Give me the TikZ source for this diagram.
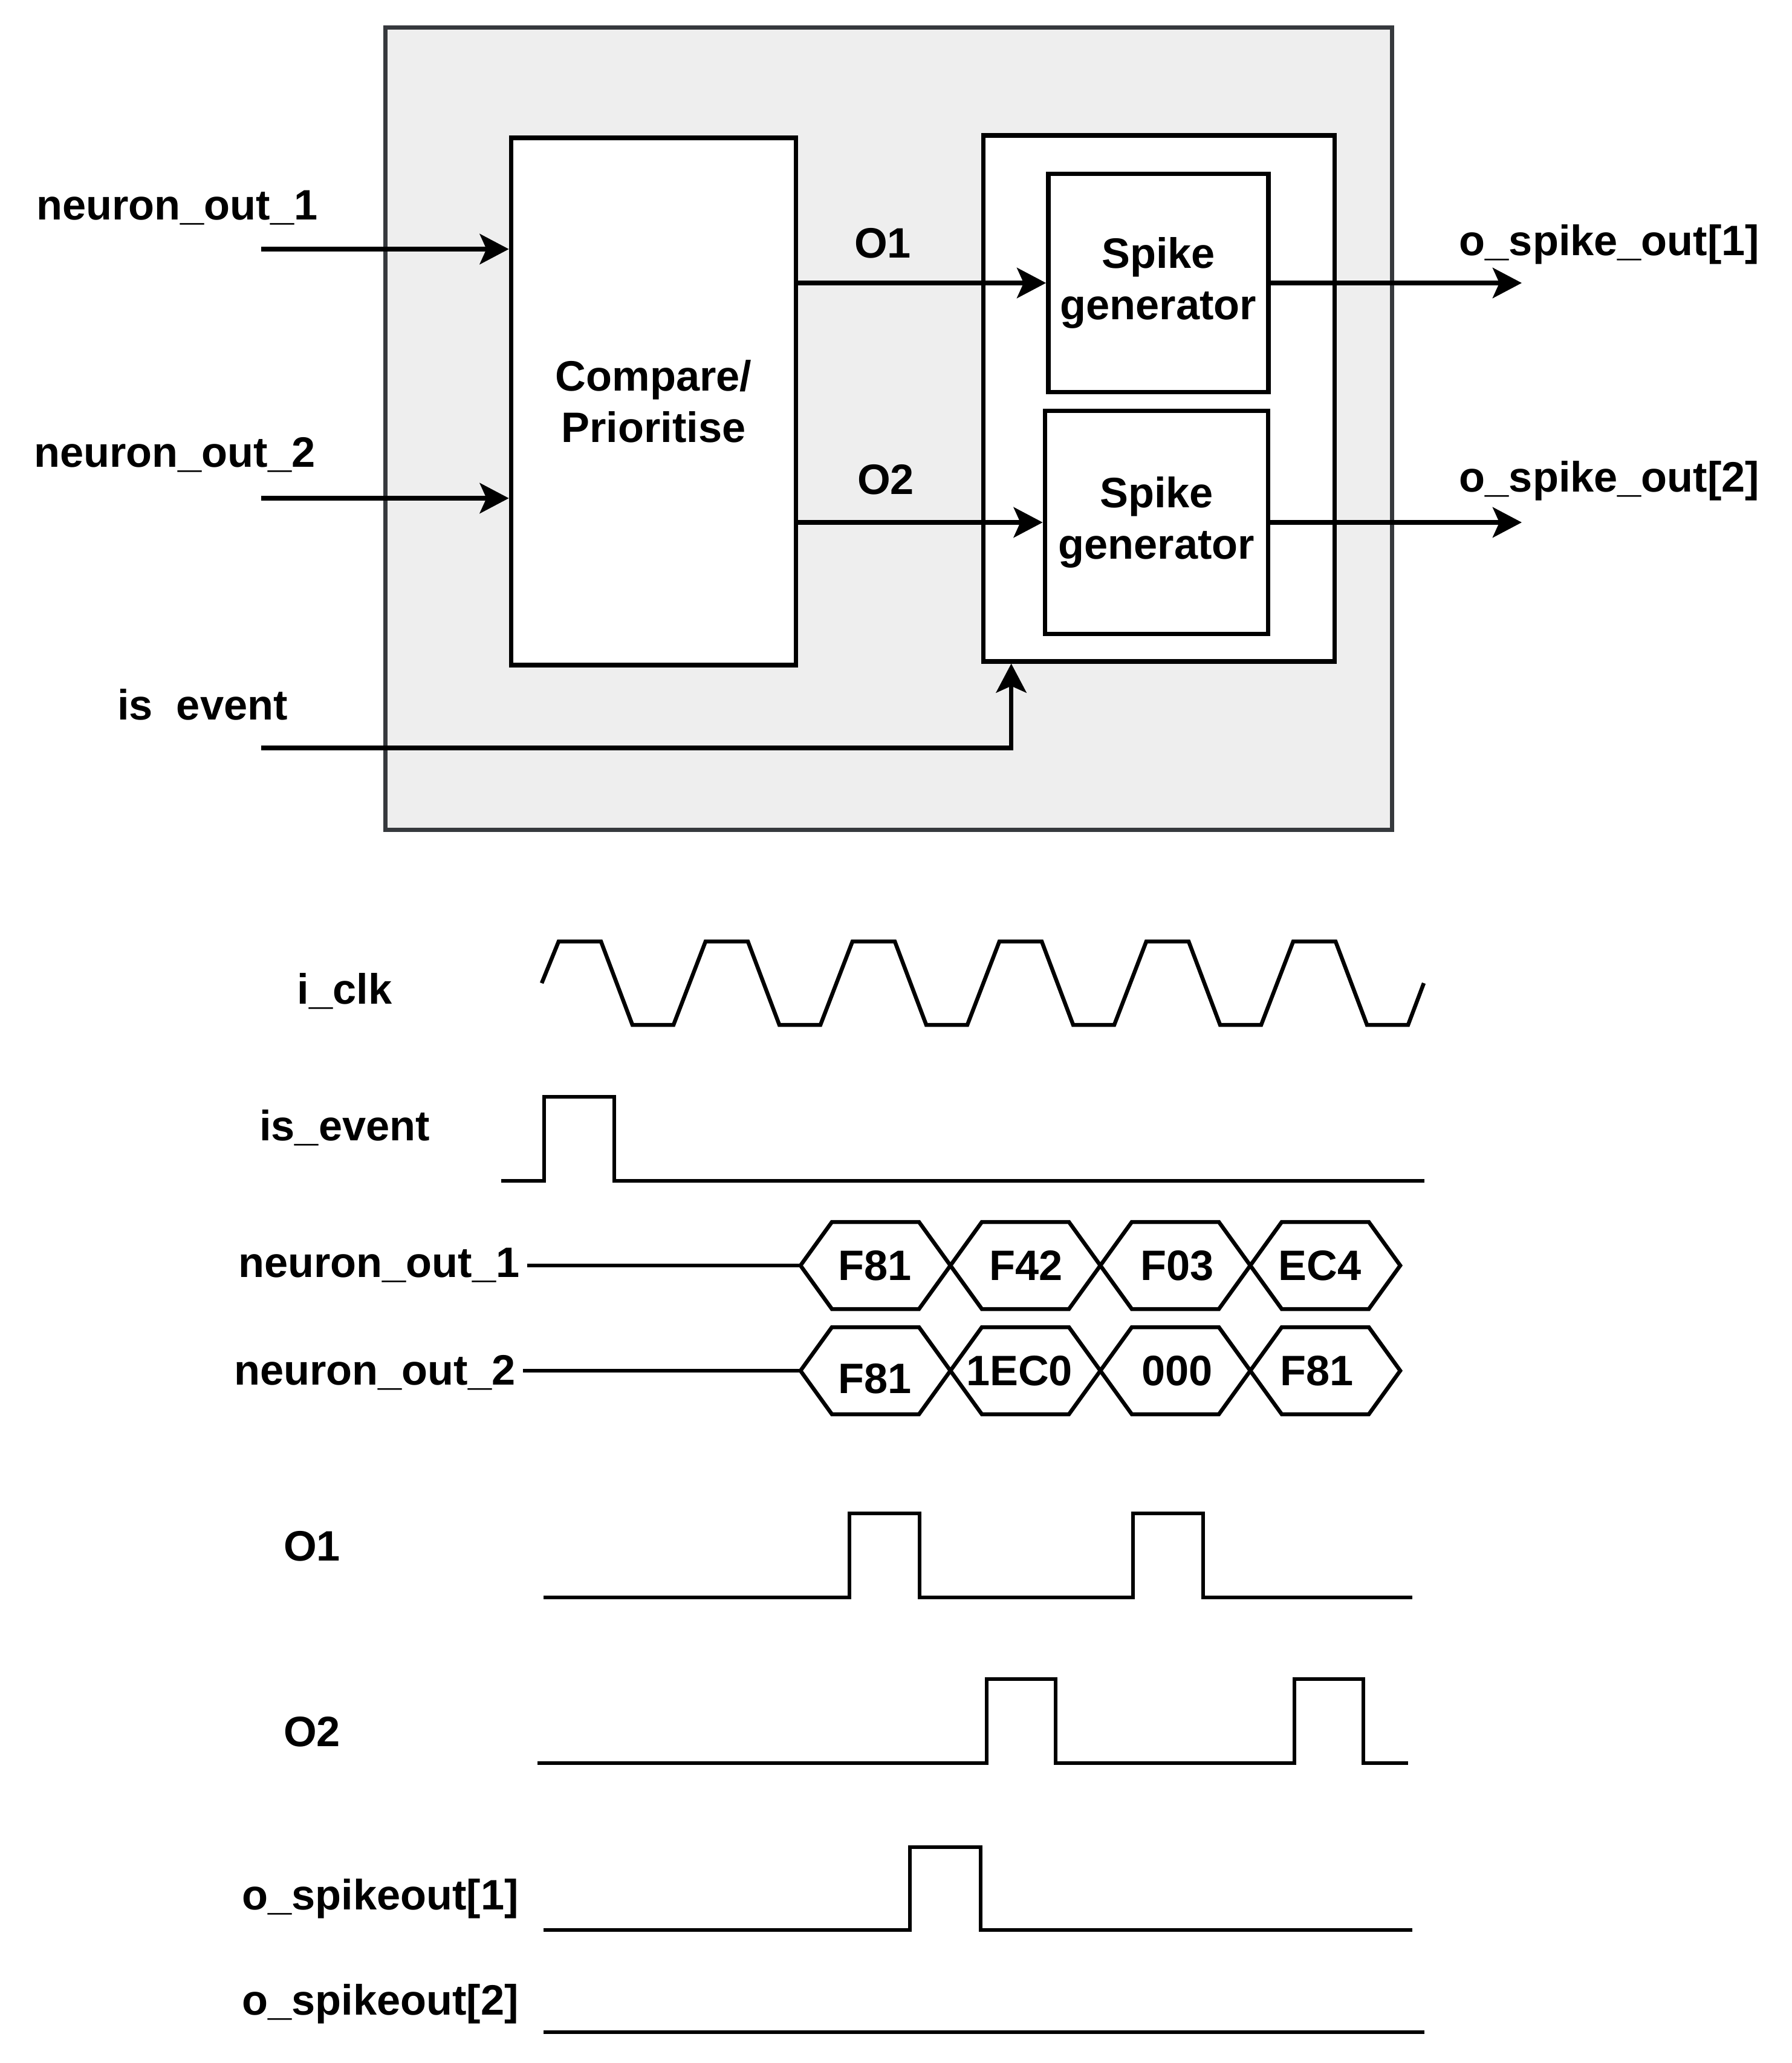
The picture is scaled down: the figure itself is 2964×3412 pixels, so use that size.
\documentclass[tikz,border=0pt]{standalone}
\usepackage{fontspec}
\setmainfont{Liberation Sans}
\usetikzlibrary{arrows.meta}
\definecolor{panelgrey}{HTML}{EEEEEE}
\definecolor{panelline}{HTML}{36393D}

\begin{document}
\begin{tikzpicture}[x=0.01cm, y=-0.01cm,
  every node/.style={font=\fontsize{20}{24}\selectfont\bfseries},
  box/.style={draw, line width=0.075cm, fill=white, align=center, inner sep=0pt},
  arr/.style={-{Stealth[length=0.48cm, width=0.5cm, inset=0.11cm]}, line width=0.075cm},
  wave/.style={line width=0.065cm, line join=miter}]
  \useasboundingbox (0,0) rectangle (2964,3412);

  \node[draw=panelline, fill=panelgrey, line width=0.075cm, minimum width=16.64cm, minimum height=13.26cm] (blk) at (1470,709) {};
  \node[box, minimum width=4.71cm, minimum height=8.71cm] (cmp) at (1081,664) {Compare/\\Prioritise};
  \node[box, minimum width=5.81cm, minimum height=8.69cm] (cont) at (1917,659) {};
  \node[box, minimum width=3.64cm, minimum height=3.61cm] (sg1) at (1916,468) {Spike\\generator};
  \node[box, minimum width=3.69cm, minimum height=3.69cm] (sg2) at (1913,864) {Spike\\generator};

  \node (lin1) at (293,344) {neuron\_out\_1};
  \node (lin2) at (289,752) {neuron\_out\_2};
  \node (lev) at (335,1165) {is\ \ event};
  \node (lo1) at (1460,402) {O1};
  \node (lo2) at (1465,793) {O2};
  \node (lout1) at (2662,404) {o\_spike\_out[1]};
  \node (lout2) at (2662,795) {o\_spike\_out[2]};

  \coordinate (in1) at (432,412);
  \coordinate (in2) at (432,824);
  \coordinate (inev) at (432,1237);
  \coordinate (out1) at (2517,468);
  \coordinate (out2) at (2517,864);

  \draw[arr] (in1) -- (in1 -| cmp.west);
  \draw[arr] (in2) -- (in2 -| cmp.west);
  \draw[arr] (cmp.east |- sg1.west) -- (sg1.west);
  \draw[arr] (cmp.east |- sg2.west) -- (sg2.west);
  \draw[arr] (sg1.east) -- (out1);
  \draw[arr] (sg2.east) -- (out2);
  \draw[arr] (inev) -| ([xshift=0.5cm]cont.south west);

  \node (tclk) at (570,1639) {i\_clk};
  \node (tev) at (570,1865) {is\_event};
  \node (tn1) at (627,2093) {neuron\_out\_1};
  \node (tn2) at (620,2270) {neuron\_out\_2};
  \node (to1) at (516,2557) {O1};
  \node (to2) at (516,2864) {O2};
  \node (ts1) at (629,3140) {o\_spikeout[1]};
  \node (ts2) at (629,3314) {o\_spikeout[2]};

  \draw[wave] (896,1626) foreach \k in {0,...,5} {
    -- ({924+243*\k},1557) -- ({994+243*\k},1557)
    -- ({1046+243*\k},1695) -- ({1114+243*\k},1695)} -- (2355,1626);
  \draw[wave] (829,1953) -- (900,1953) -- (900,1814) -- (1016,1814) -- (1016,1953) -- (2356,1953);

  \coordinate (b1) at (1324,2093);
  \coordinate (b2) at (1324,2267);
  \draw[wave] (tn1.east) -- (b1);
  \draw[wave] (b2 -| tn2.east) -- (b2);
  \foreach \k in {0,...,3} {
    \draw[wave] ({1324+248*\k},2093) -- ++(52,-72) -- ++(144,0) -- ++(52,72)
      -- ++(-52,72) -- ++(-144,0) -- cycle;
    \draw[wave] ({1324+248*\k},2267) -- ++(52,-72) -- ++(144,0) -- ++(52,72)
      -- ++(-52,72) -- ++(-144,0) -- cycle;
  }
  \node (v11) at (1447,2093) {F81};
  \node (v12) at (1697,2093) {F42};
  \node (v13) at (1947,2093) {F03};
  \node (v14) at (2183,2093) {EC4};
  \node (v21) at (1447,2280) {F81};
  \node (v22) at (1686,2267) {1EC0};
  \node (v23) at (1947,2267) {000};
  \node (v24) at (2178,2267) {F81};

  \draw[wave] (899,2642) -- (1405,2642) -- (1405,2503) -- (1521,2503) -- (1521,2642)
    -- (1874,2642) -- (1874,2503) -- (1990,2503) -- (1990,2642) -- (2336,2642);
  \draw[wave] (889,2916) -- (1632,2916) -- (1632,2777) -- (1746,2777) -- (1746,2916)
    -- (2141,2916) -- (2141,2777) -- (2255,2777) -- (2255,2916) -- (2329,2916);
  \draw[wave] (899,3192) -- (1505,3192) -- (1505,3055) -- (1622,3055) -- (1622,3192) -- (2336,3192);
  \draw[wave] (899,3361) -- (2356,3361);
\end{tikzpicture}
\end{document}
